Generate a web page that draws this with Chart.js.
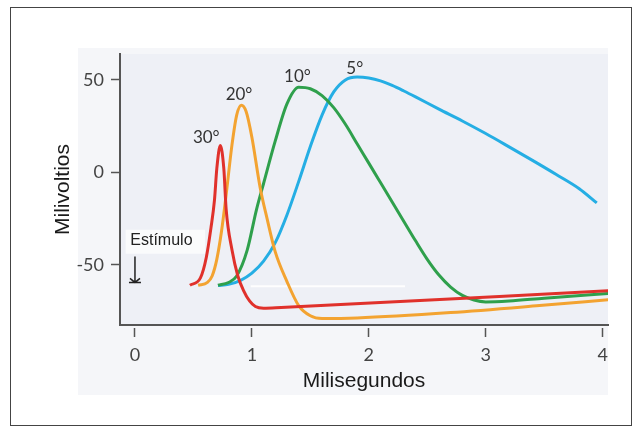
<html>
<head>
	<meta charset="utf-8">
	<title>Potencial de acción y temperatura</title>
	<script src="https://cdn.jsdelivr.net/npm/chart.js"></script>
	<style>
		body { margin: 0; background: #fff; }
		.wrap { position: relative; width: 640px; height: 432px; }
		.frame { position: absolute; left: 10px; top: 7px; width: 620px; height: 417px; border: 1.5px solid #444; }
		canvas { position: absolute; left: 0; top: 0; }
	</style>
</head>
<body>
	<div class="wrap">
		<div class="frame"></div>
		<canvas id="chart" width="640" height="432"></canvas>
	</div>
</body>
<script>
    // ejes
    const xTicks = [0, 1, 2, 3, 4];
    const yTicks = [-50, 0, 50];

    // 30 grados (rojo)
    const t30 = [0.47, 0.56, 0.61, 0.65, 0.68, 0.70, 0.73, 0.76, 0.78, 0.83, 0.88, 0.93, 0.98, 1.03, 1.1, 1.25, 4.05];
    const v30 = [-61, -57, -46, -30, -15, 2, 14.5, 2, -20, -42, -56, -64, -69.5, -72.5, -73.4, -73, -64];

    // 20 grados (naranja)
    const t20 = [0.54, 0.62, 0.66, 0.70, 0.74, 0.78, 0.83, 0.87, 0.91, 0.95, 1.0, 1.07, 1.13, 1.2, 1.3, 1.4, 1.5, 1.6, 1.9, 2.7, 3.46, 4.05];
    const v20 = [-61, -59.5, -56, -47, -32, -12, 15, 31, 36.3, 33, 19, -8, -25, -43, -59, -72, -77.5, -79, -78.7, -75.8, -72, -68.8];

    // 10 grados (verde)
    const t10 = [0.71, 0.8, 0.87, 0.96, 1.04, 1.1, 1.2, 1.3, 1.4, 1.5, 1.6, 1.7, 1.8, 1.9, 2.0, 2.1, 2.2, 2.3, 2.4, 2.5, 2.6, 2.7, 2.8, 2.9, 3.0, 3.2, 3.5, 4.05];
    const v10 = [-61, -59.5, -56, -42, -20, -6, 17, 37, 46, 45.2, 41.5, 35, 26, 15.5, 5, -5.5, -16, -26.5, -37, -47, -55.5, -62, -66.5, -69, -70, -69.5, -68, -65.5];

    // 5 grados (azul)
    const t5 = [0.71, 0.8, 0.9, 1.0, 1.1, 1.2, 1.3, 1.4, 1.5, 1.6, 1.7, 1.8, 1.9, 2.0, 2.1, 2.2, 2.3, 2.4, 2.6, 2.8, 3.0, 3.2, 3.4, 3.6, 3.8, 3.95];
    const v5 = [-61.2, -60.5, -58.5, -54.5, -48, -38, -23, -5, 14, 31, 43.5, 50, 51.5, 51, 49.5, 47, 44, 40.8, 34.2, 27.8, 21, 13.8, 6.5, -1, -8.8, -16.5];

    const seriesNames = ['30°', '20°', '10°', '5°'];
    const seriesColors = ['#e0312b', '#f3a331', '#2fa04c', '#25aee4'];

    // etiquetas de las curvas (en unidades de datos)
    const labelX = [0.61, 0.89, 1.39, 1.88];
    const labelY = [19, 42, 52, 56];

    const toPoints = (xs, ys) => xs.map((x, i) => ({ x, y: ys[i] }));

    const datasets = [[t30, v30], [t20, v20], [t10, v10], [t5, v5]].map((s, i) => ({
        label: seriesNames[i],
        data: toPoints(s[0], s[1]),
        borderColor: seriesColors[i],
        borderWidth: 3,
        pointRadius: 0,
        cubicInterpolationMode: 'monotone',
        fill: false
    }));

    const decor = {
        id: 'decor',
        beforeDraw: (chart) => {
            const { ctx, chartArea } = chart;
            ctx.save();
            ctx.fillStyle = '#f5f6f9';
            ctx.fillRect(78, 48, 530, 347);
            ctx.fillStyle = '#eef0f6';
            ctx.fillRect(chartArea.left, chartArea.top, chartArea.right - chartArea.left, chartArea.bottom - chartArea.top);
            ctx.restore();
        },
        beforeDatasetsDraw: (chart) => {
            const { ctx, scales } = chart;
            const x = scales.x, y = scales.y;
            ctx.save();
            // linea blanca de la figura original
            ctx.strokeStyle = 'rgba(255,255,255,0.9)';
            ctx.lineWidth = 2;
            ctx.beginPath();
            ctx.moveTo(x.getPixelForValue(0.99), y.getPixelForValue(-61.6));
            ctx.lineTo(x.getPixelForValue(2.31), y.getPixelForValue(-61.6));
            ctx.stroke();
            // caja de "Estímulo"
            ctx.fillStyle = 'rgba(255,255,255,0.7)';
            const bx = x.getPixelForValue(-0.08), by = y.getPixelForValue(-31);
            ctx.fillRect(bx, by, x.getPixelForValue(0.6) - bx, y.getPixelForValue(-44) - by);
            ctx.restore();
        },
        afterDatasetsDraw: (chart) => {
            const { ctx, scales } = chart;
            const x = scales.x, y = scales.y;
            ctx.save();
            ctx.fillStyle = '#333';
            ctx.font = '17px Lato';
            ctx.textAlign = 'center';
            ctx.textBaseline = 'middle';
            seriesNames.forEach((name, i) => {
                ctx.fillText(name, x.getPixelForValue(labelX[i]), y.getPixelForValue(labelY[i]));
            });
            ctx.fillStyle = '#222';
            ctx.font = '16px "Liberation Sans"';
            ctx.textAlign = 'left';
            ctx.fillText('Estímulo', x.getPixelForValue(-0.04), y.getPixelForValue(-37));
            // flecha
            const ax = x.getPixelForValue(0);
            const ay1 = y.getPixelForValue(-45.5), ay2 = y.getPixelForValue(-59.5);
            ctx.strokeStyle = '#222';
            ctx.lineWidth = 1.5;
            ctx.beginPath();
            ctx.moveTo(ax, ay1);
            ctx.lineTo(ax, ay2);
            ctx.moveTo(ax - 5, ay2 - 4);
            ctx.lineTo(ax, ay2);
            ctx.lineTo(ax + 5, ay2 - 4);
            ctx.moveTo(ax - 6, ay2);
            ctx.lineTo(ax + 6, ay2);
            ctx.stroke();
            ctx.restore();
        }
    };

    new Chart(document.getElementById('chart'), {
        type: 'line',
        data: { datasets },
        plugins: [decor],
        options: {
            responsive: false,
            animation: false,
            layout: { padding: { left: 0, right: 32, top: 54, bottom: 0 } },
            plugins: { legend: { display: false }, tooltip: { enabled: false } },
            scales: {
                x: {
                    type: 'linear',
                    min: -0.128,
                    max: 4.046,
                    afterBuildTicks: (scale) => { scale.ticks = xTicks.map(v => ({ value: v })); },
                    afterFit: (scale) => { scale.height = 107; },
                    grid: { drawOnChartArea: false, color: '#555', tickLength: 12, tickWidth: 1.5, tickBorderDash: [0, 2, 10, 40] },
                    border: { color: '#555', width: 2 },
                    ticks: { color: '#444', font: { family: 'Lato', size: 18 }, padding: 7 },
                    title: { display: true, text: 'Milisegundos', color: '#1a1a1a', font: { family: 'Liberation Sans', size: 21 }, padding: { top: 0, bottom: 38 } }
                },
                y: {
                    min: -82.5,
                    max: 64,
                    afterBuildTicks: (scale) => { scale.ticks = yTicks.map(v => ({ value: v })); },
                    afterFit: (scale) => { scale.width = 120; },
                    grid: { drawOnChartArea: false, color: '#555', tickLength: 9, tickWidth: 1.5 },
                    border: { color: '#555', width: 2 },
                    ticks: { color: '#444', font: { family: 'Lato', size: 18 }, padding: 7 },
                    title: { display: true, text: 'Milivoltios', color: '#1a1a1a', font: { family: 'Liberation Sans', size: 21 }, padding: { top: 51, bottom: 0 } }
                }
            }
        }
    });
</script>
</html>
